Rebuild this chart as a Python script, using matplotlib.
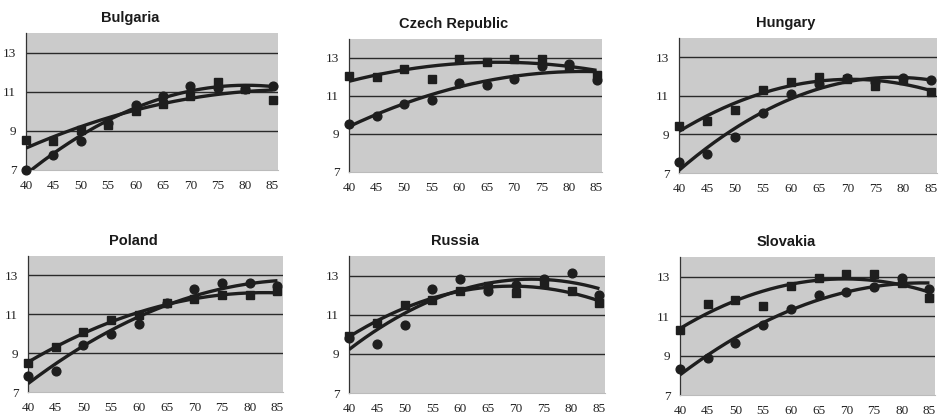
import matplotlib.pyplot as plt
import numpy as np

# valores: cuadrados y circulos por pais, x = edad 40..85
edades = [40, 45, 50, 55, 60, 65, 70, 75, 80, 85]

paises = ['Bulgaria', 'Czech Republic', 'Hungary', 'Poland', 'Russia', 'Slovakia']

cuadrados_bulgaria = [8.52, 8.5, 9.05, 9.3, 10.0, 10.35, 10.8, 11.5, 11.15, 10.6]
circulos_bulgaria = [7.0, 7.75, 8.5, 9.4, 10.3, 10.8, 11.28, 11.2, 11.15, 11.3]

cuadrados_chequia = [12.03, 12.0, 12.4, 11.9, 12.95, 12.8, 12.95, 12.95, 12.6, 12.1]
circulos_chequia = [9.55, 9.95, 10.6, 10.8, 11.67, 11.58, 11.9, 12.57, 12.7, 11.85]

cuadrados_hungria = [9.45, 9.7, 10.27, 11.28, 11.7, 11.97, 11.85, 11.52, 11.8, 11.2]
circulos_hungria = [7.57, 7.97, 8.88, 10.1, 11.1, 11.63, 11.92, 11.7, 11.92, 11.8]

cuadrados_polonia = [8.5, 9.3, 10.1, 10.69, 10.96, 11.59, 11.8, 11.98, 11.98, 12.2]
circulos_polonia = [7.8, 8.1, 9.43, 10.0, 10.48, 11.6, 12.3, 12.6, 12.6, 12.44]

cuadrados_rusia = [9.89, 10.59, 11.5, 11.77, 12.2, 12.49, 12.12, 12.6, 12.23, 11.59]
circulos_rusia = [9.8, 9.51, 10.5, 12.32, 12.83, 12.23, 12.54, 12.83, 13.12, 12.03]

cuadrados_eslovaquia = [10.3, 11.6, 11.82, 11.51, 12.53, 12.92, 13.12, 13.12, 12.7, 11.9]
circulos_eslovaquia = [8.3, 8.9, 9.62, 10.53, 11.34, 12.05, 12.22, 12.5, 12.95, 12.4]

series = [
    (cuadrados_bulgaria, circulos_bulgaria),
    (cuadrados_chequia, circulos_chequia),
    (cuadrados_hungria, circulos_hungria),
    (cuadrados_polonia, circulos_polonia),
    (cuadrados_rusia, circulos_rusia),
    (cuadrados_eslovaquia, circulos_eslovaquia),
]

# posicion de cada panel en pixeles: izquierda, arriba, derecha, abajo
rects_px = [
    (26, 33, 278, 170),
    (349, 39, 602, 172),
    (679, 38, 937, 173),
    (28, 256, 283, 392),
    (349, 256, 605, 393),
    (680, 257, 935, 395),
]

W, H = 940, 417
fig = plt.figure(figsize=(W / 100, H / 100), dpi=100)
fig.patch.set_facecolor('white')

color = '#1e1e1e'
xs = np.linspace(40, 85, 200)

for pais, (cuad, circ), (l, t, r, b) in zip(paises, series, rects_px):
    ax = fig.add_axes([l / W, 1 - b / H, (r - l) / W, (b - t) / H])
    ax.set_facecolor('#cbcbcb')
    ax.set_xlim(40, 86)
    ax.set_ylim(7, 14)

    for y in [9, 11, 13]:
        ax.axhline(y, color='#2a2a2a', lw=1.0, zorder=1)

    # lineas de tendencia polinomicas de grado 2
    for datos in (cuad, circ):
        coef = np.polyfit(edades, datos, 2)
        ax.plot(xs, np.polyval(coef, xs), color=color, lw=2.4, zorder=3,
                solid_capstyle='butt')

    ax.plot(edades, cuad, 's', color=color, ms=6.3, zorder=4, clip_on=False)
    ax.plot(edades, circ, 'o', color=color, ms=6.3, zorder=4, clip_on=False)

    ax.set_yticks([7, 9, 11, 13])
    ax.set_xticks(edades)
    ax.tick_params(length=0, labelsize=9.5, pad=7, colors='#222222')
    for lab in ax.get_xticklabels() + ax.get_yticklabels():
        lab.set_family('Liberation Serif')

    ax.spines['top'].set_visible(False)
    ax.spines['right'].set_visible(False)
    ax.spines['left'].set_color('#333333')
    ax.spines['left'].set_linewidth(0.9)
    ax.spines['bottom'].set_color('#bbbbbb')

    ax.set_title(pais, x=0.415, pad=8, fontsize=10.5, fontweight='bold',
                 family='Liberation Sans', color='#1a1a1a')

plt.savefig('out.png', dpi=100)
